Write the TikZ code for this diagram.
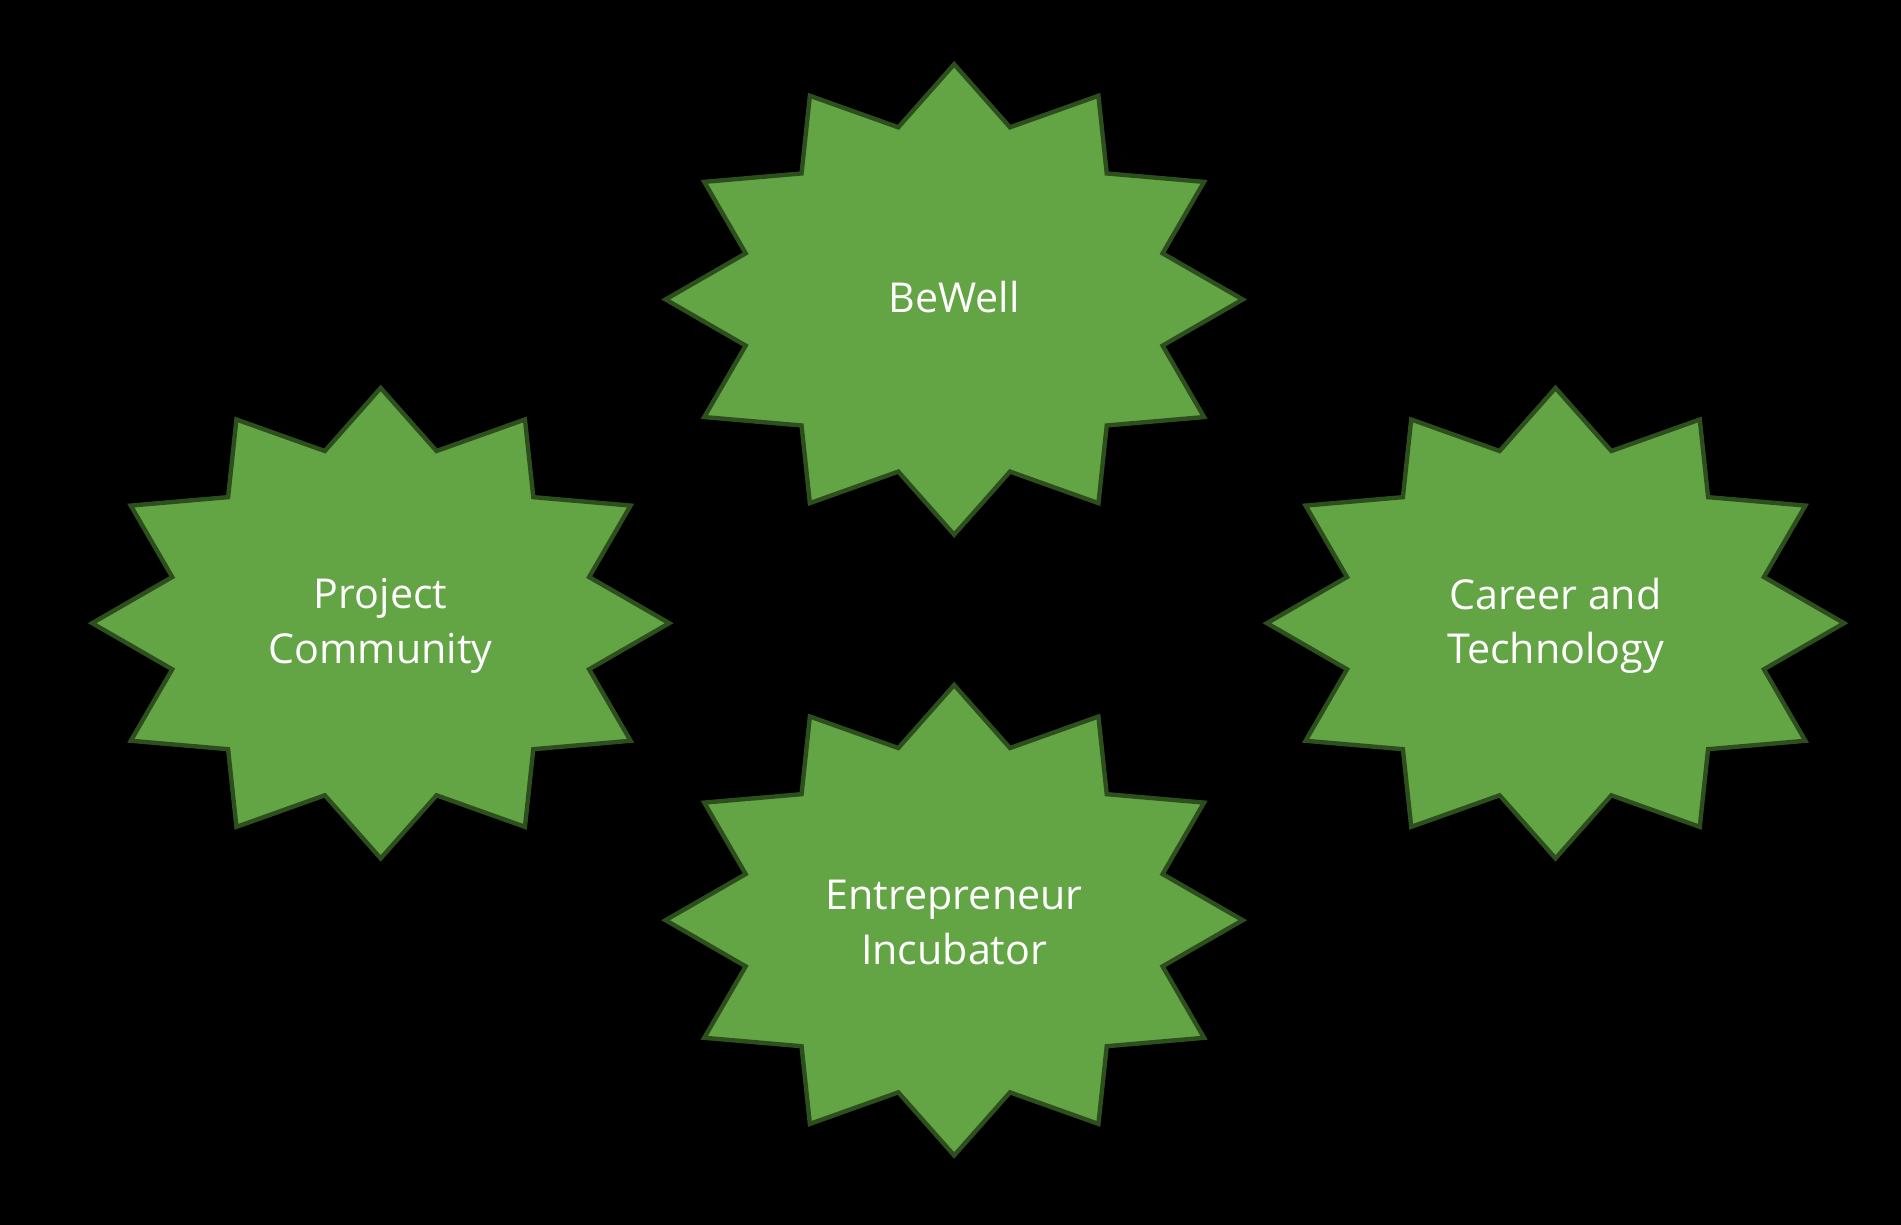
\documentclass[tikz,border=0pt]{standalone}
\usepackage{fontspec}
\setmainfont{Open Sans}
\definecolor{starfill}{HTML}{63A544}
\definecolor{starline}{HTML}{2D4F1D}
\tikzset{
  starbody/.style={fill=starfill, draw=starline, line width=3.6pt, line join=miter},
  startext/.style={text=white, align=center, font=\fontsize{34}{45}\selectfont, inner sep=0pt}
}
\newcommand{\twelvestar}[1]{%
  \begin{scope}[shift={#1}]
    \draw[starbody] (0:238 and 194)
      \foreach \a in {0,30,...,330}{ -- (\a+15:178 and 147) -- (\a+30:238 and 194) } -- cycle;
  \end{scope}}
\begin{document}
\begin{tikzpicture}[x=1pt,y=-1pt]
  \useasboundingbox (0,0) rectangle (1568,1009.6);
  \fill[black] (-5,-5) rectangle (1575,1015);
  \twelvestar{(787,247)}
  \twelvestar{(314,514)}
  \twelvestar{(1283,514)}
  \twelvestar{(787,759)}
  \node[startext] (bewell) at (787,245) {BeWell};
  \node[startext] (project) at (314,516) {Project\\Community};
  \node[startext] (career) at (1283,516) {Career and\\Technology};
  \node[startext] (entre) at (787,761) {Entrepreneur\\Incubator};
\end{tikzpicture}
\end{document}
